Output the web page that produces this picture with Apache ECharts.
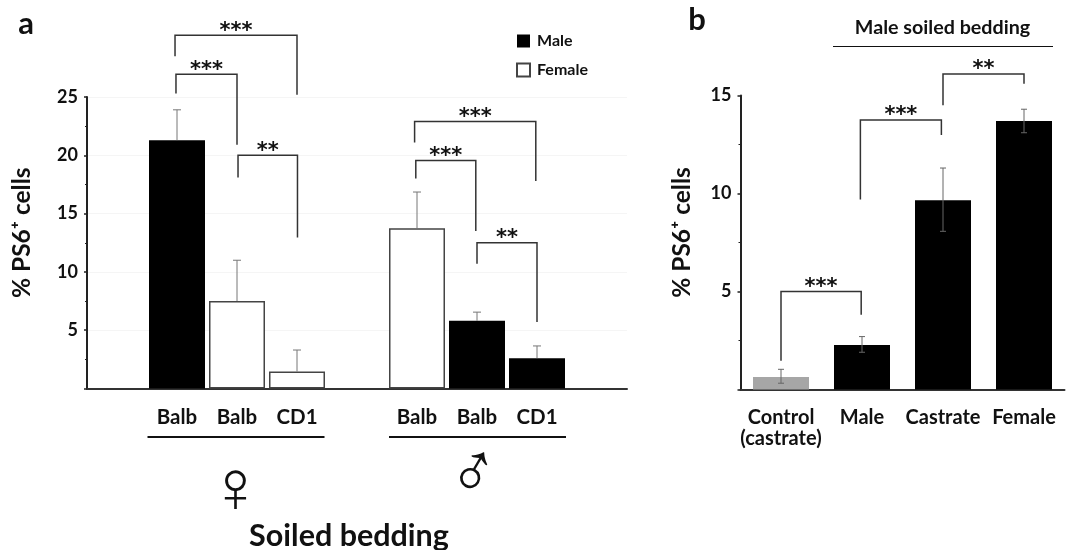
<!DOCTYPE html>
<html><head><meta charset="utf-8">
<style>html,body{margin:0;padding:0;background:#fff}#c{width:1070px;height:550px}</style>
<script src="https://cdn.jsdelivr.net/npm/echarts@6/dist/echarts.min.js"></script>
</head><body><div id="c"></div>
<script>
// Panel a
const categoriesA = ['', 'Balb', 'Balb', 'CD1', '', 'Balb', 'Balb', 'CD1', ''];
const maleValuesA = [null, 21.3, null, null, null, null, 5.8, 2.6, null];
const femaleValuesA = [null, null, 7.5, 1.45, null, 13.75, null, null, null];
// [slot, bar top, error top]
const errorsA = [[1, 21.3, 23.9], [2, 7.5, 11.0], [3, 1.45, 3.3], [5, 13.75, 16.85], [6, 5.8, 6.55], [7, 2.6, 3.65]];
// [left slot, right slot, left end, top, right end, stars]
const bracketsA = [
  [0.967, 3.0, 28.5, 30.3, 25.2, '***'],
  [0.983, 2.0, 25.3, 26.95, 20.9, '***'],
  [2.017, 3.008, 18.1, 20.0, 12.95, '**'],
  [4.96, 6.98, 21.1, 22.9, 17.8, '***'],
  [4.98, 5.98, 18.0, 19.55, 13.5, '***'],
  [6.0, 7.0, 10.7, 12.5, 5.7, '**']
];
// Panel b
const categoriesB = ['Control\n(castrate)', 'Male', 'Castrate', 'Female'];
const valuesB = [0.64, 2.27, 9.65, 13.7];
const colorsB = ['#a6a6a6', '#000', '#000', '#000'];
const errorsB = [[0, 0.32, 1.03], [1, 1.9, 2.7], [2, 8.07, 11.3], [3, 13.1, 14.3]];
const bracketsB = [
  [0, 0.99, 1.47, 5.0, 3.82, '***'],
  [0.98, 1.98, 9.7, 13.75, 12.98, '***'],
  [2, 3, 14.5, 16.1, 15.6, '**']
];

const FONT = 'Lato';
const chart = echarts.init(document.getElementById('c'), null, {renderer: 'canvas'});

function axisY(idx, max, gap, splitShow) {
  return {
    type: 'value', gridIndex: idx, min: 0, max: max, interval: 5,
    name: '% PS6⁺ cells', nameLocation: 'middle', nameGap: gap,
    nameTextStyle: {fontFamily: FONT, fontWeight: 'bold', fontSize: 24.5, color: '#111', padding: [0, 0, 0, 20]},
    axisLine: {show: true, lineStyle: {color: '#222', width: 2}},
    axisTick: {show: true, length: 3, lineStyle: {color: '#222', width: 1.5}},
    minorTick: {show: true, splitNumber: 2, length: 2, lineStyle: {color: '#222', width: 1}},
    splitLine: {show: splitShow, lineStyle: {color: '#f5f5f5', width: 1}},
    axisLabel: {fontFamily: FONT, fontWeight: 'bold', fontSize: 18, color: '#111', margin: 9,
      formatter: v => (v === 0 ? '' : String(v))}
  };
}
function axisX(idx, data, lineHeight, size) {
  return {
    type: 'category', gridIndex: idx, data: data,
    axisLine: {lineStyle: {color: '#333', width: 2}},
    axisTick: {show: false},
    axisLabel: {interval: 0, fontFamily: FONT, fontWeight: 'bold', fontSize: size, color: '#111',
      margin: 18, lineHeight: lineHeight}
  };
}
function slotX(api, v, y) {
  const i = Math.round(v);
  return api.coord([i, y])[0] + (v - i) * api.size([1, 0])[0];
}
function errorSeries(idx, data, capHalf, color, lower) {
  return {
    type: 'custom', xAxisIndex: idx, yAxisIndex: idx, data: data, z: 5, silent: true,
    encode: {x: 0, y: [1, 2]},
    renderItem: function (params, api) {
      const x = api.coord([api.value(0), 0])[0];
      const lo = api.coord([api.value(0), api.value(1)])[1];
      const hi = api.coord([api.value(0), api.value(2)])[1];
      const st = {stroke: color, lineWidth: 1, fill: null};
      const ch = [
        {type: 'line', shape: {x1: x, y1: lo, x2: x, y2: hi}, style: st},
        {type: 'line', shape: {x1: x - capHalf, y1: hi, x2: x + capHalf, y2: hi}, style: st}
      ];
      if (lower) ch.push({type: 'line', shape: {x1: x - capHalf, y1: lo, x2: x + capHalf, y2: lo}, style: st});
      return {type: 'group', children: ch};
    }
  };
}
function bracketSeries(idx, data, starSize) {
  return {
    type: 'custom', xAxisIndex: idx, yAxisIndex: idx, data: data, z: 6, silent: true, clip: false,
    encode: {x: [0, 1], y: [2, 3, 4]},
    renderItem: function (params, api) {
      const d = data[params.dataIndex];
      const xl = slotX(api, d[0], d[3]), xr = slotX(api, d[1], d[3]);
      const yl = api.coord([0, d[2]])[1], yt = api.coord([0, d[3]])[1], yr = api.coord([0, d[4]])[1];
      return {type: 'group', children: [
        {type: 'polyline', shape: {points: [[xl, yl], [xl, yt], [xr, yt], [xr, yr]]},
          style: {stroke: '#333', lineWidth: 1.5, fill: null}},
        {type: 'text', style: {text: d[5], x: (xl + xr) / 2, y: yt - 4,
          fontFamily: 'DejaVu Sans', fontWeight: 'bold', fontSize: starSize, fill: '#111',
          align: 'center', verticalAlign: 'middle'}}
      ]};
    }
  };
}
function txt(text, cx, cy, size, weight, font, rotation) {
  return {type: 'text', x: cx, y: cy, rotation: rotation || 0,
    style: {text: text, x: 0, y: 0, fontFamily: font || FONT, fontWeight: weight || 'bold',
    fontSize: size, fill: '#111', align: 'center', verticalAlign: 'middle'}};
}
function rule(x1, x2, y, w) {
  return {type: 'line', shape: {x1: x1, y1: y, x2: x2, y2: y}, style: {stroke: '#111', lineWidth: w}};
}

chart.setOption({
  animation: false,
  backgroundColor: '#fff',
  grid: [
    {left: 87, top: 97, width: 540, height: 291.5},
    {left: 740.5, top: 95.5, width: 324, height: 294}
  ],
  xAxis: [axisX(0, categoriesA, 21, 20.5), axisX(1, categoriesB, 21, 20)],
  yAxis: [axisY(0, 25, 52, true), axisY(1, 15, 46, false)],
  legend: {
    data: ['Male', 'Female'], orient: 'vertical', left: 511, top: 28, itemWidth: 13, itemHeight: 13, itemGap: 13,
    selectedMode: false, textStyle: {fontFamily: FONT, fontWeight: 'bold', fontSize: 16, color: '#111', padding: [0, 0, 0, 2]},
    icon: 'rect'
  },
  series: [
    {name: 'Male', type: 'bar', xAxisIndex: 0, yAxisIndex: 0, data: maleValuesA, barWidth: 56, barGap: '-100%',
      itemStyle: {color: '#000'}},
    {name: 'Female', type: 'bar', xAxisIndex: 0, yAxisIndex: 0, data: femaleValuesA, barWidth: 56, barGap: '-100%',
      itemStyle: {color: '#fff', borderColor: '#444', borderWidth: 1.5}},
    errorSeries(0, errorsA, 4, '#777', false),
    bracketSeries(0, bracketsA, 21),
    {name: 'Male soiled', type: 'bar', xAxisIndex: 1, yAxisIndex: 1, barWidth: 56,
      data: valuesB.map((v, i) => ({value: v, itemStyle: {color: colorsB[i]}}))},
    errorSeries(1, errorsB, 3, '#666', true),
    bracketSeries(1, bracketsB, 21)
  ],
  graphic: [
    txt('a', 26, 24, 31),
    txt('b', 697, 20, 31),
    txt('Soiled bedding', 349, 536, 30.5),
    txt('Male soiled bedding', 942.5, 28, 19.7),
    rule(833, 1053, 46.5, 1.2),
    rule(147.5, 324.5, 437, 2.2),
    rule(389, 566, 437, 2.2),
    txt('♀', 235.5, 493, 74, '200', 'DejaVu Sans ExtraLight, DejaVu Sans'),
    txt('♂', 475, 477, 72, '200', 'DejaVu Sans ExtraLight, DejaVu Sans', 0.26)
  ]
});
</script></body></html>
